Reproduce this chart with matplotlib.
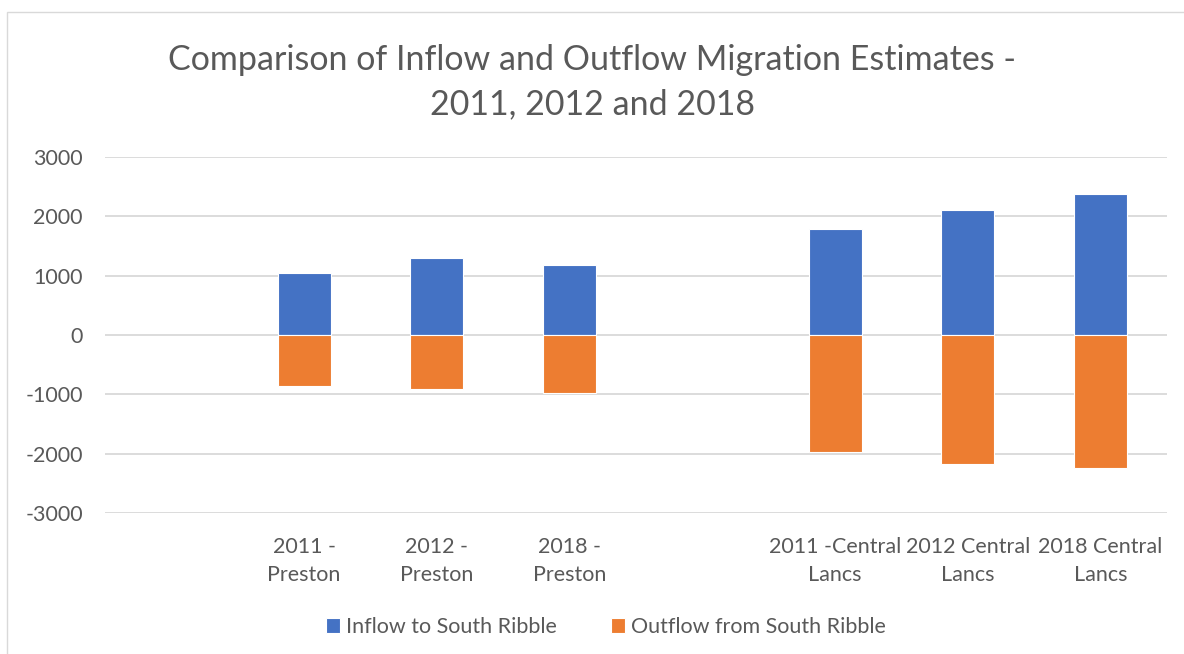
import numpy as np
import matplotlib
matplotlib.use('Agg')
from matplotlib import pyplot as plt
from matplotlib.patches import Rectangle

plt.rcParams['font.family'] = ['Lato', 'DejaVu Sans']
plt.rcParams['axes.unicode_minus'] = False

categories = ['', '2011 -\nPreston', '2012 -\nPreston', '2018 -\nPreston', '',
              '2011 -Central\nLancs', '2012 Central\nLancs', '2018 Central\nLancs']
inflow = [np.nan, 1040, 1305, 1175, np.nan, 1780, 2110, 2372]
outflow = [np.nan, -855, -912, -973, np.nan, -1980, -2170, -2240]
yticks = [-3000, -2000, -1000, 0, 1000, 2000, 3000]

grey = '#595959'
fig = plt.figure(figsize=(11.84, 6.54), dpi=100)
ax = fig.add_axes([105/1184, 1-513/654, (1167-105)/1184, (513-157)/654])

x = np.arange(len(categories))
ax.bar(x, inflow, width=0.4, color='#4472C4', edgecolor='white', linewidth=0.8,
       label='Inflow to South Ribble', zorder=3)
ax.bar(x, outflow, width=0.4, color='#ED7D31', edgecolor='white', linewidth=0.8,
       label='Outflow from South Ribble', zorder=3)

ax.set_xlim(-0.5, len(categories)-0.5)
ax.set_ylim(-3000, 3000)
ax.set_yticks(yticks)
ax.set_xticks(x)
ax.set_xticklabels(categories, fontsize=15.5, color=grey, linespacing=1.55)
ax.tick_params(axis='y', labelsize=15.5, labelcolor=grey, length=0, pad=16)
ax.tick_params(axis='x', length=0, pad=17)
ax.grid(axis='y', color='#d9d9d9', linewidth=1.3, zorder=0)
for s in ax.spines.values():
    s.set_visible(False)

fig.text(0.5, 1-82/654, 'Comparison of Inflow and Outflow Migration Estimates -\n2011, 2012 and 2018',
         ha='center', va='center', fontsize=24.5, color=grey, linespacing=1.45)

ax.legend(loc='center', bbox_to_anchor=(0.5+14/1184, 1-627/654), bbox_transform=fig.transFigure,
          ncol=2, frameon=False, fontsize=15.5, labelcolor=grey, handlelength=0.65,
          handleheight=0.65, handletextpad=0.3, columnspacing=2.5)

fig.patches.append(Rectangle((7/1184, -0.01), 1.0, 1-12/654+0.01, transform=fig.transFigure,
                             fill=False, edgecolor='#d9d9d9', linewidth=1))

fig.savefig('out.png', dpi=100)
